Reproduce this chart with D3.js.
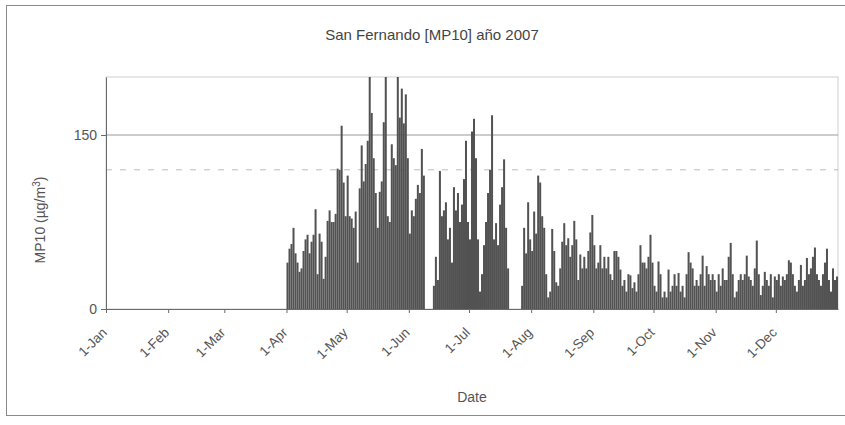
<!DOCTYPE html>
<html>
<head>
<meta charset="utf-8">
<script src="https://cdn.jsdelivr.net/npm/d3@7"></script>
<style>
    body { margin: 0; background: #fff; }
    svg { font-family: Arial, "Liberation Sans", sans-serif; }
    .axis path, .axis line { stroke: #6a6a6a; }
    .axis text { fill: #555; }
</style>
</head>
<body>
<svg id="chart"></svg>
<script>
const title = 'San Fernando [MP10] año 2007'
const firstDay = '2007-04-01'

// daily MP10 (µg/m3), null = no data
const apr = [40, 52, 56, 70, 48, 40, 32, 35, 50, 60, 64, 48, 58, 64, 86, 30, 65, 58, 26, 45,
    76, 85, 75, 75, 82, 121, 120, 158, 109, 80]
const may = [115, 80, 78, 70, 84, 40, 104, 141, 110, 125, 145, 212, 169, 130, 100, 70, 101, 110, 161, 215,
    80, 75, 142, 130, 124, 208, 165, 190, 160, 185, 130]
const jun = [65, 85, 80, 95, 107, 100, 138, 115, null, null, null, null, 20, 45, 25, 119, 80, 85, 92, 60,
    70, 40, 105, 85, 100, 75, 90, 112, 145, 75]
const jul = [60, 153, 164, 130, 60, 15, 30, 55, 75, 100, 120, 167, 60, 74, 55, 90, 105, 129, 70, 35,
    null, null, null, null, null, null, 20, 70, 48, 92, 60]
const aug = [50, 84, 65, 115, 109, 80, 70, 30, 10, 15, 69, 50, 23, 20, 35, 58, 74, 55, 61, 45,
    55, 76, 60, 25, 47, 35, 45, 35, 50, 66, 81]
const sep = [55, 35, 40, 55, 35, 45, 35, 45, 30, 25, 50, 50, 45, 34, 20, 25, 15, 30, 29, 18,
    23, 15, 30, 55, 40, 40, 35, 45, 64, 40]
const oct = [20, 15, 41, 30, 10, 15, 10, 34, 15, 20, 30, 20, 31, 15, 20, 10, 30, 49, 40, 35,
    20, 25, 20, 30, 46, 20, 37, 30, 25, 30, 25]
const nov = [15, 30, 20, 35, 25, 25, 45, 57, 30, 10, 15, 25, 30, 25, 30, 46, 28, 25, 20, 35,
    59, 30, 12, 20, 32, 25, 20, 30, 10, 28]
const dec = [25, 30, 20, 28, 25, 30, 42, 40, 30, 20, 15, 25, 38, 20, 25, 44, 30, 35, 45, 53,
    30, 25, 20, 30, 40, 52, 25, 15, 35, 25, 28]

const monthLabels = ['1-Jan', '1-Feb', '1-Mar', '1-Apr', '1-May', '1-Jun',
    '1-Jul', '1-Aug', '1-Sep', '1-Oct', '1-Nov', '1-Dec']
const yTicks = [0, 150]
const yMax = 200
const limitLine = 120

const W = 845, H = 425
const pad = { top: 77, right: 7, bottom: 116, left: 106 }

const parse = d3.timeParse('%Y-%m-%d')
const start = parse(firstDay)

const daily = [...apr, ...may, ...jun, ...jul, ...aug, ...sep, ...oct, ...nov, ...dec]
    .map((v, i) => ({ date: d3.timeDay.offset(start, i), value: v }))
    .filter(d => d.value != null)

const svg = d3.select('#chart')
    .attr('width', W)
    .attr('height', H)

// outer frame
svg.append('rect')
    .attr('x', 6.5).attr('y', 5.5)
    .attr('width', W - 6).attr('height', H - 15)
    .attr('fill', 'none')
    .attr('stroke', '#8a8a8a')

const x = d3.scaleTime()
    .domain([parse('2007-01-01'), parse('2008-01-01')])
    .range([pad.left, W - pad.right])

const y = d3.scaleLinear()
    .domain([0, yMax])
    .range([H - pad.bottom, pad.top])

// plot area border
svg.append('rect')
    .attr('x', pad.left).attr('y', pad.top)
    .attr('width', W - pad.right - pad.left)
    .attr('height', H - pad.bottom - pad.top)
    .attr('fill', 'none')
    .attr('stroke', '#cfcfcf')

svg.append('line')
    .attr('x1', pad.left).attr('x2', W - pad.right)
    .attr('y1', y(150)).attr('y2', y(150))
    .attr('stroke', '#999')

svg.append('line')
    .attr('x1', pad.left).attr('x2', W - pad.right)
    .attr('y1', y(limitLine)).attr('y2', y(limitLine))
    .attr('stroke', '#bdbdbd')
    .attr('stroke-dasharray', '6,8')

svg.append('clipPath').attr('id', 'plot')
    .append('rect')
    .attr('x', pad.left).attr('y', pad.top)
    .attr('width', W - pad.right - pad.left)
    .attr('height', H - pad.bottom - pad.top)

svg.append('g')
    .attr('clip-path', 'url(#plot)')
    .selectAll('rect')
    .data(daily)
    .enter()
    .append('rect')
    .attr('x', d => x(d.date))
    .attr('width', d => x(d3.timeDay.offset(d.date, 1)) - x(d.date))
    .attr('y', d => y(d.value))
    .attr('height', d => y(0) - y(d.value))
    .attr('fill', '#525252')

const xAxis = svg.append('g')
    .attr('class', 'axis')
    .attr('transform', `translate(0, ${H - pad.bottom})`)
    .call(d3.axisBottom(x)
        .tickValues(d3.timeMonth.range(parse('2007-01-01'), parse('2008-01-01')))
        .tickFormat((d, i) => monthLabels[i])
        .tickSize(4)
        .tickSizeOuter(0))

xAxis.selectAll('text')
    .attr('x', 0)
    .attr('y', 0)
    .attr('dy', '0.35em')
    .attr('transform', 'translate(-2, 21) rotate(-45)')
    .style('text-anchor', 'end')
    .style('font-size', '13.5px')

svg.append('g')
    .attr('class', 'axis')
    .attr('transform', `translate(${pad.left}, 0)`)
    .call(d3.axisLeft(y)
        .tickValues(yTicks)
        .tickSize(5)
        .tickSizeOuter(0)
        .tickPadding(4))
    .selectAll('text')
    .style('font-size', '14px')

svg.append('text')
    .text(title)
    .attr('x', 432)
    .attr('y', 40)
    .attr('text-anchor', 'middle')
    .attr('fill', '#444')
    .style('font-size', '15px')

const yLabel = svg.append('text')
    .attr('transform', 'translate(45, 220) rotate(-90)')
    .attr('text-anchor', 'middle')
    .attr('fill', '#555')
    .style('font-size', '14px')
yLabel.append('tspan').text('MP10 (µg/m')
yLabel.append('tspan').text('3').attr('dy', -5).style('font-size', '10px')
yLabel.append('tspan').text(')').attr('dy', 5)

svg.append('text')
    .text('Date')
    .attr('x', (pad.left + W - pad.right) / 2)
    .attr('y', 402)
    .attr('text-anchor', 'middle')
    .attr('fill', '#555')
    .style('font-size', '14px')
</script>
</body>
</html>
